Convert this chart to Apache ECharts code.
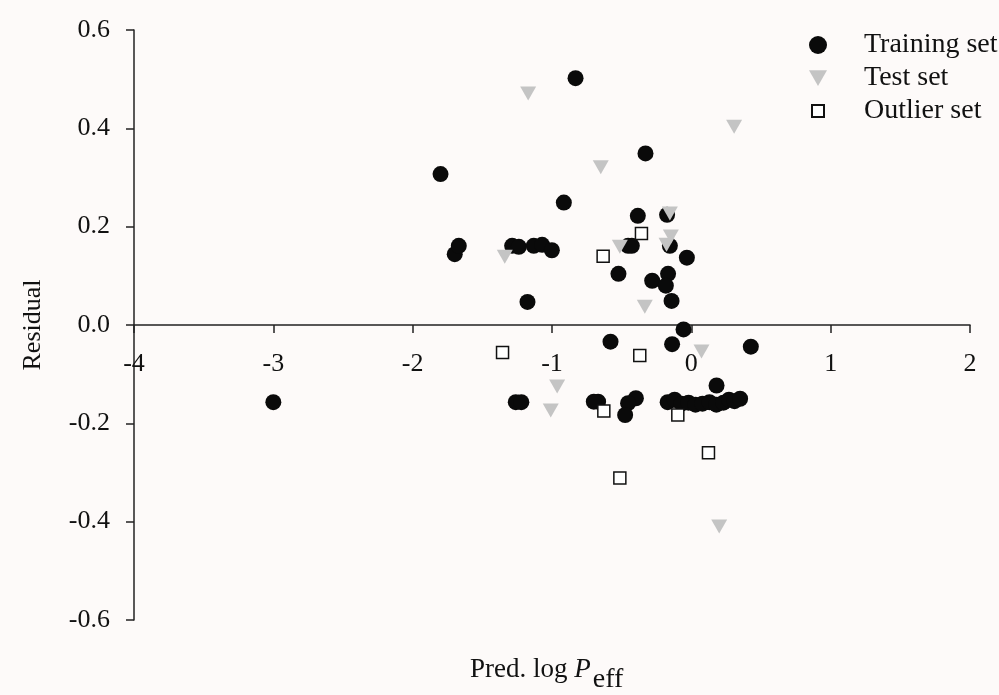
<!DOCTYPE html>
<html>
<head>
<meta charset="utf-8">
<script src="https://cdn.jsdelivr.net/npm/echarts@6/dist/echarts.min.js"></script>
<style>
html,body{margin:0;padding:0;background:#fdfaf9;}
#chart{width:999px;height:695px;}
</style>
</head>
<body>
<div id="chart"></div>
<script>
// ---- data ----
var seriesNames = ['Training set', 'Test set', 'Outlier set'];
var xTicks = [-4, -3, -2, -1, 0, 1, 2];
var yTicks = [-0.6, -0.4, -0.2, 0.0, 0.2, 0.4, 0.6];

var trainX = [-3.00, -1.80, -1.698, -1.669, -1.176, -0.915, -0.831,
  -1.286, -1.238, -1.131, -1.071, -1.001,
  -0.329, -0.384, -0.174, -0.454, -0.427, -0.154, -0.032, -0.523, -0.281, -0.167, -0.183, -0.142, -0.056,
  -0.58, -0.138, 0.427, 0.181,
  -0.669, -0.70, -0.398, -0.454, -0.475, -1.26, -1.22,
  -0.17, -0.12, -0.07, -0.02, 0.03, 0.08, 0.13, 0.18, 0.23, 0.27, 0.31, 0.35];
var trainY = [-0.157, 0.307, 0.144, 0.161, 0.047, 0.249, 0.502,
  0.161, 0.159, 0.161, 0.163, 0.152,
  0.349, 0.222, 0.224, 0.161, 0.161, 0.161, 0.137, 0.104, 0.090, 0.104, 0.080, 0.049, -0.009,
  -0.034, -0.039, -0.044, -0.123,
  -0.156, -0.156, -0.149, -0.159, -0.183, -0.157, -0.157,
  -0.157, -0.152, -0.160, -0.158, -0.162, -0.160, -0.157, -0.162, -0.158, -0.152, -0.155, -0.150];

var testX = [-1.171, 0.307, -0.650, -1.339, -0.513, -0.154, -0.147, -0.178, -0.334, 0.073, -0.963, -1.009, 0.20];
var testY = [0.471, 0.403, 0.321, 0.139, 0.159, 0.227, 0.180, 0.163, 0.037, -0.054, -0.125, -0.174, -0.410];

var outX = [-0.633, -0.358, -1.355, -0.37, -0.628, -0.097, 0.123, -0.513];
var outY = [0.140, 0.186, -0.056, -0.062, -0.175, -0.183, -0.260, -0.311];

function pairs(xs, ys) { return xs.map(function (x, i) { return [x, ys[i]]; }); }

var FONT = 'Liberation Serif';
var TRI = 'path://M0,0L16,0L8,14Z';
var SQ_LEGEND = 'path://M0,0L0,0M18,18L18,18M3,3h12v12h-12z';

var chart = echarts.init(document.getElementById('chart'), null, {renderer: 'canvas'});
var gridTop = 30, gridBottom = 75, chartH = 695;
// pixel distance from the bottom of the grid to the y = 0 line
var plotH = chartH - gridTop - gridBottom;
var zeroOffset = plotH * (0 - yTicks[0]) / (yTicks[yTicks.length - 1] - yTicks[0]);

chart.setOption({
  backgroundColor: '#fdfaf9',
  animation: false,
  textStyle: {fontFamily: FONT},
  grid: {left: 134, right: 29, top: gridTop, bottom: gridBottom},
  title: {
    text: '{a|Pred. log }{b|P}{c|eff}',
    left: 470, top: 656, padding: 0,
    textStyle: {
      fontWeight: 'normal',
      rich: {
        a: {fontFamily: FONT, fontSize: 27, fontWeight: 'normal', color: '#111', lineHeight: 27, verticalAlign: 'top'},
        b: {fontFamily: FONT, fontSize: 27, fontWeight: 'normal', color: '#111', fontStyle: 'italic', lineHeight: 27, verticalAlign: 'top'},
        c: {fontFamily: FONT, fontSize: 28, fontWeight: 'normal', color: '#111', lineHeight: 27, verticalAlign: 'top', padding: [10, 0, 0, 2]}
      }
    }
  },
  legend: {
    orient: 'vertical', left: 803, top: 26,
    itemWidth: 18, itemHeight: 18, itemGap: 5,
    textStyle: {fontFamily: FONT, fontSize: 28, color: '#111', lineHeight: 27, padding: [0, 0, 0, 32]},
    data: [
      {name: seriesNames[0], icon: 'circle'},
      {name: seriesNames[1], icon: TRI},
      {name: seriesNames[2], icon: SQ_LEGEND}
    ]
  },
  xAxis: {
    type: 'value', min: xTicks[0], max: xTicks[xTicks.length - 1], interval: 1,
    offset: -zeroOffset,
    axisLine: {onZero: false, lineStyle: {color: '#222', width: 1.5}},
    axisTick: {show: true, length: 8, lineStyle: {color: '#222', width: 1.5}},
    axisLabel: {fontFamily: FONT, fontSize: 26, color: '#111', margin: 26},
    splitLine: {show: false}
  },
  yAxis: {
    type: 'value', min: yTicks[0], max: yTicks[yTicks.length - 1], interval: 0.2,
    name: 'Residual', nameLocation: 'middle', nameGap: 88, nameRotate: 90,
    nameTextStyle: {fontFamily: FONT, fontSize: 26, color: '#111'},
    axisLine: {onZero: false, lineStyle: {color: '#222', width: 1.5}},
    axisTick: {show: true, length: 8, lineStyle: {color: '#222', width: 1.5}},
    axisLabel: {fontFamily: FONT, fontSize: 26, color: '#111', margin: 24,
      formatter: function (v) { return (Math.abs(v) < 1e-9 ? 0 : v).toFixed(1); }},
    splitLine: {show: false}
  },
  series: [
    {name: seriesNames[0], type: 'scatter', symbol: 'circle', symbolSize: 16,
      itemStyle: {color: '#0a0a0a', opacity: 1}, data: pairs(trainX, trainY)},
    {name: seriesNames[1], type: 'scatter', symbol: TRI, symbolSize: [16, 14],
      itemStyle: {color: '#c4c4c4', opacity: 1}, data: pairs(testX, testY)},
    {name: seriesNames[2], type: 'scatter', symbol: 'rect', symbolSize: 12,
      itemStyle: {color: '#ffffff', borderColor: '#111', borderWidth: 1.5, opacity: 1}, data: pairs(outX, outY)}
  ]
});
</script>
</body>
</html>
